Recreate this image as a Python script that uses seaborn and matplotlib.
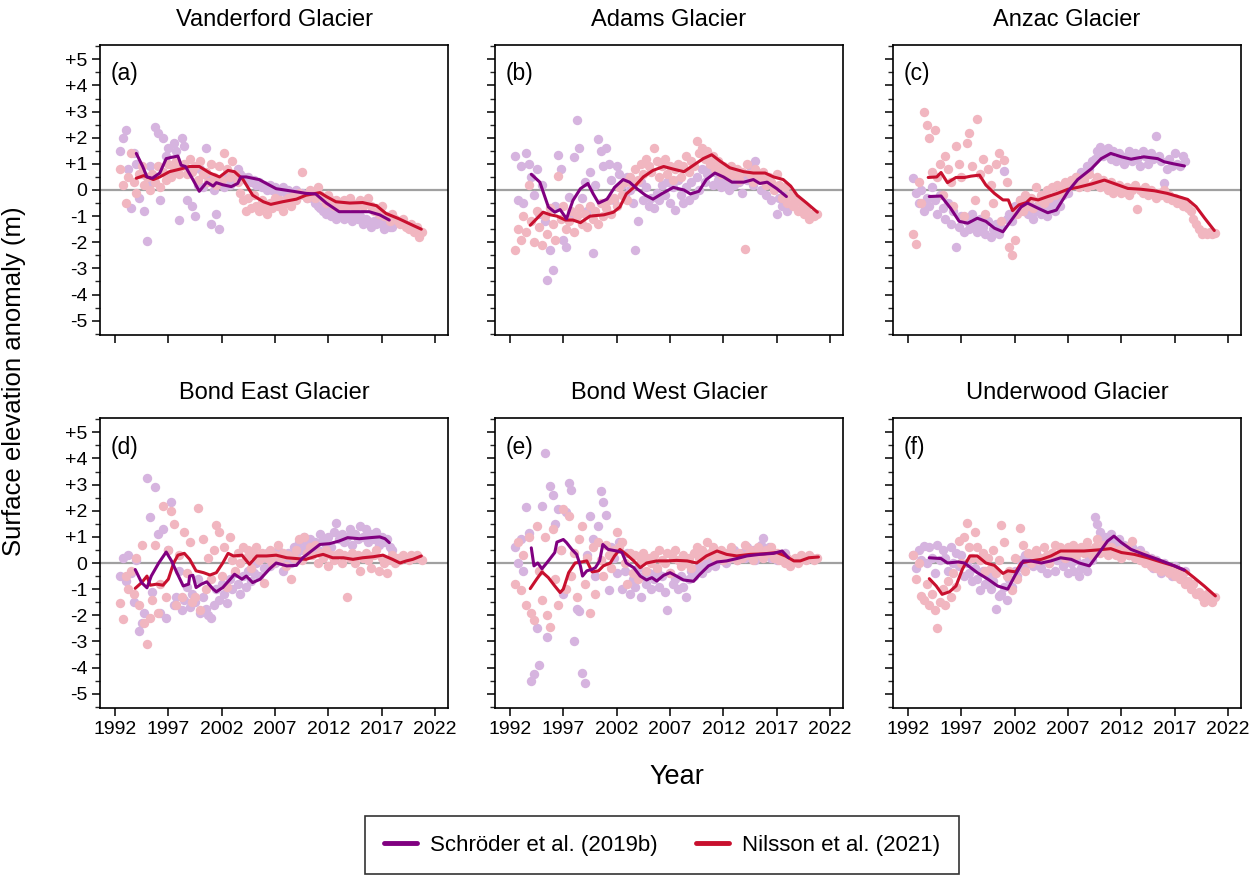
import numpy as np
import pandas as pd
import matplotlib
matplotlib.use("Agg")
import matplotlib.pyplot as plt
from matplotlib.lines import Line2D
from matplotlib.ticker import MultipleLocator
import seaborn as sns

# Surface elevation anomaly (m) for six glaciers.
# Point clouds are sampled every quarter year starting 1992.5.
PTS_START = 1992.5
PTS_STEP = 0.25

glaciers = ["Vanderford Glacier", "Adams Glacier", "Anzac Glacier",
            "Bond East Glacier", "Bond West Glacier", "Underwood Glacier"]
panel_tags = ["(a)", "(b)", "(c)", "(d)", "(e)", "(f)"]
series_names = ["Schröder et al. (2019b)", "Nilsson et al. (2021)"]

year_ticks = [1992, 1997, 2002, 2007, 2012, 2017, 2022]
anomaly_ticks = [5, 4, 3, 2, 1, 0, -1, -2, -3, -4, -5]
anomaly_labels = ["+5", "+4", "+3", "+2", "+1", "0", "-1", "-2", "-3", "-4", "-5"]

# ---------------- (a) Vanderford ----------------
vanderford_sch_pts = [
    1.5, 2.0, 2.3, 0.8, -0.7, 1.4, 1.0, -0.3, 0.6, -0.8, -1.95, 0.9,
    0.3, 2.4, 2.2, -0.4, 2.0, 1.3, 1.6, 0.6, 1.8, 1.5, -1.15, 2.0,
    1.7, -0.4, 0.8, -0.6, -1.0, 0.2, 0.8, 0.1, 1.6, 0.5, -1.3, 0.0,
    -0.9, -1.5, 0.4, 0.1, 0.5, 0.2, 0.3, 0.4, 0.8, 0.6, 0.5, 0.4,
    0.5, 0.3, 0.4, 0.2, 0.3, 0.1, 0.2, 0.0, 0.2, 0.0, 0.1, -0.1,
    0.0, 0.1, -0.1, 0.0, -0.2, -0.1, 0.0, -0.2, -0.1, -0.2, -0.3, -0.2,
    -0.3, -0.5, -0.6, -0.7, -0.8, -0.9, -0.8, -1.0, -0.9, -1.1, -1.0, -0.8,
    -1.1, -0.9, -1.0, -1.2, -0.9, -1.1, -1.0, -1.3, -1.1, -1.2, -1.4, -1.2,
    -1.3, -1.1, -1.3, -1.5, -1.2, -1.4, -1.4]
vanderford_nil_pts = [
    0.8, 0.2, -0.5, 0.5, 1.4, 0.3, -0.1, 0.6, 0.9, 0.2, 0.5, 0.0,
    0.6, 0.3, 0.9, 0.1, 0.7, 0.4, 1.0, 0.5, 0.8, 1.1, 0.6, 0.9,
    1.0, 0.6, 1.2, 0.7, 0.9, 0.4, 1.1, 0.6, 0.7, 0.3, 1.0, 0.5,
    0.2, 0.9, 0.4, 1.4, 0.8, 0.5, 1.1, 0.6, 0.3, -0.1, -0.4, -0.8,
    -0.3, -0.7, -0.2, -0.6, -0.8, -0.4, -0.6, -0.9, -0.5, -0.7, -0.3, -0.6,
    -0.4, -0.8, -0.5, -0.3, -0.6, -0.2, -0.4, -0.1, 0.7, -0.2, -0.3, 0.0,
    -0.1, -0.3, 0.1, -0.2, -0.3, -0.5, -0.2, -0.4, -0.6, -0.4, -0.5, -0.7,
    -0.4, -0.6, -0.3, -0.5, -0.7, -0.5, -0.4, -0.6, -0.5, -0.3, -0.6, -0.8,
    -0.7, -0.9, -0.6, -1.0, -1.0, -1.2, -0.9, -1.1, -1.2, -1.3, -1.1, -1.4,
    -1.5, -1.3, -1.6, -1.4, -1.8, -1.6]
vanderford_sch_line_x = [1994.0, 1994.6, 1995.0, 1995.5, 1996.2, 1996.8, 1997.3, 1997.9, 1998.2,
                         1998.6, 1999.3, 1999.9, 2000.6, 2001.2, 2001.5, 2002.1, 2002.9, 2003.5,
                         2003.8, 2004.3, 2005.5, 2007.1, 2008.7, 2009.9, 2010.8, 2011.8, 2013.0,
                         2014.0, 2015.8, 2016.8, 2017.7]
vanderford_sch_line_y = [1.4, 0.9, 0.5, 0.45, 0.65, 1.2, 1.25, 1.3, 0.95,
                         0.9, 0.4, -0.05, 0.3, 0.15, 0.28, 0.2, 0.13, 0.25,
                         0.5, 0.5, 0.4, 0.05, -0.05, -0.13, -0.15, -0.5, -0.83,
                         -0.83, -0.83, -0.95, -1.15]
vanderford_nil_line_x = [1994.0, 1994.7, 1995.6, 1996.2, 1997.1, 1998.1, 1999.0, 1999.9, 2000.9,
                         2001.8, 2002.6, 2003.2, 2004.0, 2004.9, 2005.9, 2006.6, 2007.7, 2009.0,
                         2009.9, 2011.2, 2011.8, 2012.7, 2014.0, 2015.2, 2016.5, 2017.4, 2018.6,
                         2019.9, 2020.7]
vanderford_nil_line_y = [0.45, 0.55, 0.4, 0.5, 0.7, 0.8, 0.9, 0.9, 0.65,
                         0.5, 0.75, 0.7, 0.4, -0.2, -0.45, -0.55, -0.45, -0.35,
                         -0.2, -0.1, -0.25, -0.45, -0.5, -0.48, -0.6, -0.9, -1.1,
                         -1.35, -1.5]

# ---------------- (b) Adams ----------------
adams_sch_pts = [
    1.3, -0.4, 0.9, -0.5, 1.4, 1.0, 0.5, -0.2, 0.8, -0.9, 0.2, -1.2,
    -3.45, -2.3, -3.05, -0.6, 1.35, 0.8, -1.9, -2.2, -0.25, -1.0, 1.27, 2.67,
    1.6, -0.3, 0.3, -0.8, 0.7, -2.4, 0.2, 1.95, 1.5, 0.9, 1.6, 1.0,
    0.4, -0.4, 0.9, 0.6, 0.2, -0.2, 0.5, 0.0, -0.5, -2.3, -1.2, 0.3,
    -0.4, 0.1, -0.6, -0.3, -0.7, -0.1, -0.4, 0.2, -0.2, 0.3, -0.5, 0.1,
    -0.75, 0.4, -0.2, -0.5, 0.1, -0.4, 0.3, -0.2, 0.5, 0.0, 0.8, 0.3,
    0.6, 0.9, 0.2, 0.7, 0.4, 0.1, 0.6, 0.3, 0.0, 0.5, 0.2, 0.7,
    0.3, -0.1, 0.6, 0.4, 0.9, 0.2, 1.1, 0.5, 0.0, 0.6, -0.2, 0.3,
    -0.4, 0.1, -0.9, -0.3, -0.6, -0.2, -0.8]
adams_nil_pts = [
    -2.3, -1.5, -1.9, -1.0, -1.6, 0.2, -1.2, -2.0, -0.8, -1.4, -2.1, -1.0,
    -1.7, -0.7, -1.3, -1.9, 0.55, -1.1, -0.6, -1.5, -1.2, -0.8, -1.6, -1.0,
    -0.7, -1.3, -0.9, -1.4, -0.6, -1.1, -0.8, -1.3, -0.5, -1.0, -0.7, -0.4,
    -0.9, -0.3, -0.6, 0.1, -0.2, 0.3, -0.4, 0.5, 0.2, 0.8, 0.4, 1.0,
    0.6, 1.2, 0.9, 0.7, 1.6, 1.1, 0.5, 0.9, 1.2, 0.6, 0.9, 0.4,
    0.8, 1.0, 0.5, 0.9, 1.3, 0.7, 1.1, 0.9, 1.88, 1.4, 1.6, 1.2,
    1.5, 1.0, 1.3, 0.8, 1.1, 0.6, 0.9, 0.7, 0.5, 0.9, 0.6, 0.8,
    0.4, 0.7, -2.25, 1.0, 0.6, 0.3, 0.8, 0.5, 0.4, 0.7, 0.2, 0.5,
    0.3, 0.0, 0.6, 0.2, -0.3, 0.1, -0.5, -0.2, -0.6, -0.4, -0.8, -0.5,
    -0.9, -0.7, -1.1, -0.9, -1.0, -0.9]
adams_sch_line_x = [1994.0, 1994.8, 1995.6, 1996.2, 1996.7, 1997.3, 1997.9, 1998.6, 1999.3,
                    1999.8, 2000.3, 2001.1, 2001.8, 2002.6, 2003.2, 2003.9, 2004.7, 2005.4,
                    2006.2, 2007.3, 2008.3, 2008.9, 2009.7, 2010.4, 2011.2, 2012.0, 2012.8,
                    2013.9, 2014.8, 2015.4, 2016.1, 2017.0, 2017.9]
adams_sch_line_y = [0.6, 0.3, -0.65, -0.85, -0.75, -1.1, -0.4, 0.05, 0.25,
                    -0.15, -0.5, -0.35, 0.1, 0.4, 0.3, 0.05, -0.2, -0.35,
                    -0.15, 0.1, 0.0, -0.15, -0.05, 0.4, 0.65, 0.5, 0.3,
                    0.3, 0.4, 0.25, 0.3, 0.05, -0.25]
adams_nil_line_x = [1993.9, 1995.1, 1995.8, 1996.4, 1997.2, 1997.9, 1998.6, 1999.5, 2000.8,
                    2001.7, 2002.3, 2002.9, 2003.6, 2004.5, 2005.4, 2006.4, 2007.3, 2008.3,
                    2009.2, 2010.1, 2010.9, 2011.7, 2012.6, 2013.9, 2014.8, 2015.9, 2016.7,
                    2017.6, 2018.3, 2018.9, 2019.8, 2020.8]
adams_nil_line_y = [-1.35, -0.85, -0.95, -1.0, -1.15, -1.15, -1.25, -1.0, -0.95,
                    -0.85, -0.65, -0.15, 0.1, 0.5, 0.75, 0.9, 0.8, 0.7,
                    0.95, 1.2, 1.35, 1.1, 0.85, 0.7, 0.65, 0.65, 0.5,
                    0.4, 0.15, -0.2, -0.5, -0.85]

# ---------------- (c) Anzac ----------------
anzac_sch_pts = [
    0.45, -0.1, -0.5, 0.0, -0.8, -0.3, -0.6, 0.1, -0.4, -0.9, -0.2, -0.7,
    -1.1, -0.5, -1.3, -0.8, -2.2, -1.4, -1.0, -1.6, -1.2, -1.5, -0.9, -1.3,
    -1.6, -1.1, -1.4, -1.7, -1.2, -1.8, -1.5, -1.3, -1.7, -1.4, 0.72, -1.1,
    -0.9, -1.2, -0.6, -0.8, -0.4, -0.7, -0.5, -0.9, -0.6, -1.1, -0.8, -0.5,
    -0.9, -0.6, -1.0, -0.7, -0.5, -0.8, -0.3, -0.6, -0.2, 0.1, -0.1, 0.3,
    0.2, 0.5, 0.4, 0.7, 0.6, 0.9, 0.8, 1.1, 1.2, 1.5, 1.65, 1.3,
    1.4, 1.6, 1.2, 1.5, 1.1, 1.4, 1.3, 1.0, 1.3, 1.5, 1.1, 1.4,
    1.2, 0.9, 1.5, 1.3, 1.0, 1.4, 1.2, 2.05, 1.3, 1.1, 0.25, 0.8,
    1.2, 0.9, 1.4, 1.0, 0.9, 1.3, 1.1]
anzac_nil_pts = [
    -1.7, -2.05, 0.3, -0.5, 3.0, 2.5, 2.0, 0.7, 2.3, 0.5, 1.0, -0.2,
    1.3, 0.8, 0.3, -0.6, 1.7, 1.0, 0.5, -1.0, 1.8, 2.2, 0.9, -0.4,
    2.7, 0.6, 1.2, -0.9, 0.8, 0.2, -0.5, 1.0, 1.4, -1.2, 1.15, 0.3,
    -2.2, -2.5, -1.9, -0.9, -0.4, -0.8, -0.2, -0.6, -0.3, -0.7, 0.1, -0.4,
    -0.2, -0.5, 0.0, -0.3, 0.1, -0.2, 0.2, -0.1, 0.0, 0.3, 0.1, 0.4,
    0.2, 0.5, 0.1, 0.3, 0.4, 0.1, 0.6, 0.2, 0.3, 0.5, 0.1, 0.4,
    0.2, 0.0, 0.3, -0.1, 0.1, 0.2, -0.1, 0.0, 0.1, -0.2, 0.0, 0.2,
    -0.72, 0.0, -0.1, 0.1, -0.2, 0.0, -0.1, -0.3, -0.1, -0.2, 0.0, -0.3,
    -0.2, -0.4, -0.3, -0.5, -0.4, -0.6, -0.5, -0.7, -0.8, -1.1, -1.3, -1.5,
    -1.7, -1.6, -1.7, -1.6, -1.7, -1.65]
anzac_sch_line_x = [1994.0, 1995.1, 1996.0, 1996.8, 1997.6, 1998.5, 1999.3, 2000.1, 2000.9,
                    2001.7, 2002.6, 2003.2, 2004.2, 2005.1, 2005.9, 2007.0, 2007.9, 2009.2,
                    2010.1, 2011.0, 2012.0, 2012.9, 2014.1, 2015.4, 2016.0, 2016.9, 2017.9]
anzac_sch_line_y = [-0.25, -0.23, -0.7, -1.2, -1.27, -1.08, -1.2, -1.46, -1.6,
                    -1.15, -0.65, -0.5, -0.7, -0.87, -0.77, -0.05, 0.4, 0.82,
                    1.2, 1.4, 1.27, 1.18, 1.27, 1.2, 1.08, 1.0, 0.92]
anzac_nil_line_x = [1993.9, 1994.7, 1995.1, 1995.7, 1996.5, 1997.3, 1997.9, 1998.7, 1999.3,
                    2000.1, 2000.9, 2001.4, 2001.8, 2002.4, 2003.1, 2003.5, 2004.2, 2005.1,
                    2006.0, 2007.0, 2007.9, 2009.2, 2010.4, 2011.3, 2012.6, 2013.8, 2015.1,
                    2016.3, 2017.3, 2018.2, 2019.0, 2019.8, 2020.7]
anzac_nil_line_y = [0.48, 0.5, 0.67, 0.28, 0.48, 0.48, 0.53, 0.57, 0.19,
                    -0.13, -0.38, -0.38, -0.79, -0.57, -0.48, -0.32, -0.38, -0.25,
                    -0.13, 0.03, 0.1, 0.23, 0.38, 0.25, 0.06, 0.03, -0.03,
                    -0.13, -0.25, -0.36, -0.64, -1.08, -1.55]

# ---------------- (d) Bond East ----------------
bond_east_sch_pts = [
    -0.5, 0.2, -0.7, 0.3, -0.4, -1.5, 0.1, -2.6, -2.3, -1.9, 3.25, 1.75,
    -1.1, 2.9, 1.1, -1.9, 1.3, -2.1, 0.5, 2.35, -1.6, -1.3, -0.3, -1.8,
    -1.4, -0.9, -1.7, -1.2, -1.5, -0.6, -1.9, -1.3, -1.75, -2.0, -2.1, -1.6,
    -1.0, -1.4, -0.8, -1.2, -1.55, -0.6, -1.0, -0.4, -0.8, -1.2, -0.5, -0.9,
    -0.3, -0.7, -0.4, 0.0, -0.5, 0.2, -0.2, 0.4, -0.1, 0.3, 0.0, 0.5,
    0.1, -0.3, 0.2, 0.4, 0.0, 0.6, 0.3, 0.8, 0.5, 1.0, 0.7, 0.9,
    0.6, 0.8, 0.5, 1.1, 0.9, 0.7, 1.0, 0.6, 1.2, 1.55, 0.9, 1.1,
    0.8, 1.0, 1.3, 0.7, 1.1, 0.9, 1.4, 1.0, 1.3, 0.8, 1.1, 0.9,
    1.2, 0.7, 1.0, 0.8, 0.9, 0.6, 0.5]
bond_east_nil_pts = [
    -1.55, -2.15, -0.5, -1.0, -0.3, -1.2, 0.2, -1.6, 0.7, -2.3, -3.1, -2.1,
    -1.4, 0.7, -1.9, -0.8, 2.2, -1.3, 0.5, 2.0, 1.5, -1.6, 0.3, -1.3,
    1.2, -0.4, 0.8, -1.5, -1.3, 2.1, -1.8, 0.9, -1.0, 0.2, -0.6, 0.5,
    1.45, 1.2, -0.5, 0.6, -0.9, 1.0, 0.1, -0.3, 0.4, 0.0, 0.6, 0.2,
    0.5, -0.2, 0.3, 0.6, 0.1, 0.4, -0.75, 0.2, 0.5, 0.0, 0.3, 0.7,
    0.2, 0.4, -0.1, 0.3, -0.6, 0.2, 0.5, 0.9, 0.1, 1.0, 0.4, 0.6,
    0.3, 0.7, 0.0, 0.4, 0.2, 0.5, -0.1, 0.3, 0.1, 0.3, 0.4, 0.0,
    0.3, -1.3, 0.2, 0.4, 0.0, 0.3, -0.3, 0.2, 0.4, 0.1, -0.2, 0.3,
    0.5, -0.3, 0.2, 0.0, -0.4, 0.1, 0.3, 0.0, 0.2, 0.1, 0.3, 0.2,
    0.1, 0.3, 0.2, 0.3, 0.2, 0.1]
bond_east_sch_line_x = [1993.9, 1994.5, 1995.0, 1995.4, 1996.1, 1996.8, 1997.3, 1997.8, 1998.4,
                        1998.9, 1999.0, 1999.3, 1999.6, 2000.1, 2000.6, 2001.2, 2001.5, 2002.1,
                        2002.8, 2003.2, 2003.9, 2004.3, 2004.9, 2005.6, 2006.5, 2007.1, 2008.1,
                        2009.0, 2009.6, 2010.6, 2011.2, 2012.1, 2013.0, 2013.8, 2014.9, 2015.9,
                        2016.8, 2017.3, 2017.7]
bond_east_sch_line_y = [-0.25, -0.75, -0.95, -0.5, 0.0, 0.42, 0.08, -0.37, -0.88,
                        -0.81, -0.5, -0.47, -0.94, -0.81, -0.72, -1.0, -1.1, -0.94,
                        -0.62, -0.43, -0.62, -0.5, -0.75, -0.62, -0.22, 0.0, -0.11,
                        -0.09, 0.2, 0.52, 0.71, 0.74, 0.84, 0.97, 0.93, 0.97,
                        1.0, 0.93, 0.78]
bond_east_nil_line_x = [1993.9, 1994.5, 1995.0, 1995.3, 1995.9, 1996.5, 1997.0, 1997.5, 1997.9,
                        1998.5, 1999.0, 1999.6, 2000.3, 2000.9, 2001.5, 2002.1, 2002.6, 2003.1,
                        2003.9, 2004.6, 2005.3, 2006.2, 2007.1, 2008.1, 2009.0, 2009.9, 2010.9,
                        2011.5, 2012.4, 2013.4, 2014.3, 2015.2, 2016.2, 2017.1, 2018.0, 2018.7,
                        2019.3, 2019.9, 2020.7]
bond_east_nil_line_y = [-0.97, -0.75, -0.5, -0.85, -0.81, -0.85, -0.62, 0.0, 0.3,
                        0.37, 0.14, -0.3, -0.37, -0.46, -0.37, 0.0, 0.37, 0.27,
                        0.3, -0.05, 0.27, 0.27, 0.3, 0.2, 0.17, 0.14, 0.27,
                        0.33, 0.2, 0.2, 0.14, 0.2, 0.24, 0.3, 0.14, 0.0,
                        0.08, 0.14, 0.27]

# ---------------- (e) Bond West ----------------
bond_west_sch_pts = [
    0.6, 0.0, 0.9, -0.3, 2.15, 1.15, -4.5, -4.25, -2.5, -3.9, 2.2, 4.2,
    -2.85, 2.95, 2.6, 1.5, 2.05, 0.5, -1.2, 1.95, 3.05, 2.8, -3.0, -1.75,
    -1.85, -4.2, -4.6, 0.3, 1.8, 0.9, -0.5, 1.4, 2.75, 2.35, 1.85, -1.05,
    0.6, 0.2, -0.4, 0.8, -1.0, -0.3, 0.4, -1.2, -0.6, -0.9, -0.2, -1.3,
    -0.5, -0.8, -0.4, -1.0, -0.6, -0.3, -0.9, -0.5, -1.1, -1.8, -0.4, -0.8,
    -0.6, -1.0, -0.5, -0.9, -1.3, -0.6, -0.3, -0.5, -0.2, -0.1, -0.4, 0.1,
    -0.2, 0.0, 0.2, -0.1, 0.3, 0.1, 0.3, 0.0, 0.4, 0.2, 0.5, 0.1,
    0.3, 0.4, 0.2, 0.6, 0.3, 0.5, 0.1, 0.4, 0.7, 0.95, 0.3, 0.6,
    0.2, 0.4, 0.1, 0.3, 0.2, 0.4, 0.1]
bond_west_nil_pts = [
    -0.8, 0.8, -1.05, 0.3, -1.6, 1.0, -1.9, -2.2, 1.4, -0.3, -1.4, 1.0,
    -2.0, -2.45, 1.3, -0.6, -1.6, 0.5, 2.05, -1.0, 1.8, -0.5, 0.4, -1.3,
    0.9, 1.4, -0.8, 0.2, -1.9, 0.6, -1.2, 0.8, 0.1, -0.5, 0.7, 0.3,
    -0.2, 0.5, 1.2, 0.6, 0.8, 0.0, -0.8, 0.4, -0.4, 0.3, -0.6, 0.1,
    0.4, -0.3, 0.2, 0.0, 0.3, -0.2, 0.5, 0.1, 0.0, 0.4, -0.4, 0.2,
    0.5, 0.1, -0.1, 0.3, 0.0, 0.2, -0.2, 0.4, 0.6, 0.2, 0.5, 0.3,
    0.8, 0.4, 0.6, 0.2, 0.3, 0.5, 0.1, 0.4, 0.2, 0.6, 0.3, 0.1,
    0.4, 0.2, 0.7, 0.3, 0.5, 0.1, 0.4, 0.6, 0.3, 0.2, 0.5, 0.4,
    0.6, 0.2, 0.4, 0.1, 0.3, 0.0, 0.2, -0.1, 0.1, 0.2, 0.0, 0.3,
    0.2, 0.1, 0.3, 0.2, 0.1, 0.2]
bond_west_sch_line_x = [1994.0, 1994.25, 1994.6, 1995.0, 1995.6, 1996.2, 1996.4, 1997.0, 1997.3,
                        1997.8, 1998.25, 1998.6, 1998.8, 1999.2, 1999.7, 2000.0, 2000.4, 2000.7,
                        2001.2, 2002.0, 2002.5, 2002.9, 2003.6, 2004.2, 2004.8, 2005.3, 2005.75,
                        2006.4, 2007.0, 2007.6, 2008.25, 2009.2, 2009.8, 2010.6, 2011.4, 2012.3,
                        2013.25, 2014.2, 2015.4, 2016.7, 2017.5, 2018.1]
bond_west_sch_line_y = [0.58, -0.11, 0.0, -0.22, 0.08, 0.4, 0.8, 0.9, 0.78,
                        0.52, 0.33, -0.11, -0.5, -0.3, -0.24, -0.18, 0.08, 0.71,
                        0.52, 0.46, 0.4, 0.0, -0.18, -0.5, -0.65, -0.56, -0.69,
                        -0.47, -0.37, -0.5, -0.65, -0.7, -0.43, -0.11, 0.04, 0.08,
                        0.17, 0.27, 0.33, 0.37, 0.46, 0.2]
bond_west_nil_line_x = [1993.9, 1994.5, 1995.0, 1995.6, 1996.2, 1996.7, 1997.0, 1997.5, 1998.1,
                        1998.7, 1999.2, 1999.7, 2000.3, 2000.75, 2001.4, 2001.8, 2002.3, 2002.9,
                        2003.6, 2004.2, 2004.8, 2005.75, 2006.7, 2007.6, 2008.6, 2009.5, 2010.4,
                        2011.4, 2012.3, 2013.25, 2014.5, 2015.75, 2017.0, 2017.8, 2018.6, 2019.2,
                        2020.0, 2020.9]
bond_west_nil_line_y = [-0.98, -0.62, -0.34, -0.56, -0.88, -1.13, -1.0, -0.37, 0.0,
                        0.04, 0.08, -0.34, -0.3, -0.11, 0.0, 0.27, 0.52, 0.33,
                        0.08, -0.18, 0.0, 0.08, 0.08, 0.1, 0.08, 0.0, 0.27,
                        0.46, 0.33, 0.27, 0.33, 0.35, 0.4, 0.27, 0.08, 0.08,
                        0.2, 0.23]

# ---------------- (f) Underwood ----------------
underwood_sch_pts = [
    0.3, -0.2, 0.5, 0.1, 0.65, 0.0, 0.6, 0.2, -0.4, 0.7, 0.1, 0.5,
    0.2, -0.3, 0.6, 0.0, 0.4, -0.1, 0.3, -0.5, 0.0, -0.4, -0.7, -0.2,
    -0.6, -1.05, -0.3, -0.8, -0.5, -1.0, -0.7, -1.75, -1.25, -1.2, -0.9, -1.4,
    -0.6, -0.9, -0.3, -0.5, 0.1, -0.2, 0.3, 0.0, 0.2, -0.1, 0.4, 0.1,
    -0.2, 0.1, -0.4, 0.0, 0.2, -0.3, 0.1, 0.3, -0.1, 0.2, -0.4, 0.0,
    -0.3, 0.1, -0.5, -0.2, 0.0, -0.3, 0.2, 0.1, 1.75, 1.5, 1.2, 0.9,
    1.0, 0.7, 1.1, 0.8, 0.6, 0.9, 0.4, 0.7, 0.5, 0.3, 0.6, 0.4,
    0.2, 0.5, 0.1, 0.3, 0.0, 0.2, -0.2, 0.1, -0.1, -0.4, 0.0, -0.3,
    -0.2, -0.5, -0.1, -0.4, -0.3, -0.6, -0.3]
underwood_nil_pts = [
    0.3, -0.6, 0.0, -1.25, -1.4, -0.8, -1.6, -1.2, -1.8, -2.5, -1.5, -1.0,
    -1.6, -0.7, -1.3, -0.4, -0.9, 0.85, 0.0, 1.0, 1.55, 0.6, 0.2, 1.2,
    0.6, 0.1, 0.4, -0.3, 0.2, -0.2, 0.5, -0.4, 0.1, 1.45, 0.8, -0.5,
    -0.3, -1.05, 0.2, -0.6, 1.35, 0.7, -0.3, 0.4, 0.0, 0.3, 0.5, 0.1,
    0.2, 0.6, 0.3, 0.0, 0.4, 0.7, 0.3, 0.6, 0.5, 0.2, 0.6, 0.4,
    0.7, 0.3, 0.5, 0.6, 0.4, 0.8, 0.5, 0.3, 0.6, 0.9, 0.4, 0.7,
    0.5, 0.3, 0.6, 0.4, 0.3, 0.5, 0.2, 0.4, 0.6, 0.3, 0.85, 0.2,
    0.4, 0.1, 0.3, 0.0, 0.2, -0.1, 0.1, -0.2, 0.0, -0.3, -0.1, -0.2,
    -0.4, -0.2, -0.5, -0.3, -0.6, -0.4, -0.8, -0.7, -1.0, -0.8, -1.2, -1.1,
    -1.3, -1.5, -1.2, -1.4, -1.5, -1.3]
underwood_sch_line_x = [1994.0, 1995.1, 1995.7, 1996.7, 1997.3, 1998.5, 1999.5, 2000.4, 2001.35,
                        2002.0, 2002.8, 2003.5, 2004.5, 2005.4, 2006.3, 2007.3, 2008.05, 2009.0,
                        2009.8, 2010.7, 2011.3, 2012.0, 2012.9, 2014.1, 2015.4, 2016.6, 2017.9]
underwood_sch_line_y = [0.2, 0.17, 0.0, 0.04, 0.0, -0.37, -0.62, -0.88, -1.0,
                        -0.5, 0.08, 0.08, 0.0, 0.08, 0.2, 0.14, 0.0, -0.11,
                        0.33, 0.84, 1.03, 0.78, 0.52, 0.33, 0.14, -0.05, -0.27]
underwood_nil_line_x = [1994.0, 1994.65, 1995.2, 1995.9, 1996.5, 1997.1, 1997.8, 1998.5, 1999.3,
                        2000.1, 2000.9, 2001.35, 2002.1, 2002.6, 2003.5, 2004.5, 2005.4, 2006.3,
                        2007.3, 2008.5, 2009.8, 2011.0, 2012.0, 2013.2, 2014.45, 2015.7, 2016.95,
                        2018.0, 2018.8, 2019.75, 2020.8]
underwood_nil_line_y = [-0.6, -0.88, -1.2, -1.1, -0.88, -0.24, 0.27, 0.27, 0.0,
                        -0.09, -0.4, -0.3, -0.34, 0.0, 0.08, 0.14, 0.27, 0.46,
                        0.46, 0.46, 0.5, 0.55, 0.4, 0.33, 0.2, 0.04, -0.11,
                        -0.3, -0.56, -0.88, -1.26]

panels = [
    (vanderford_sch_pts, vanderford_nil_pts, vanderford_sch_line_x, vanderford_sch_line_y,
     vanderford_nil_line_x, vanderford_nil_line_y),
    (adams_sch_pts, adams_nil_pts, adams_sch_line_x, adams_sch_line_y,
     adams_nil_line_x, adams_nil_line_y),
    (anzac_sch_pts, anzac_nil_pts, anzac_sch_line_x, anzac_sch_line_y,
     anzac_nil_line_x, anzac_nil_line_y),
    (bond_east_sch_pts, bond_east_nil_pts, bond_east_sch_line_x, bond_east_sch_line_y,
     bond_east_nil_line_x, bond_east_nil_line_y),
    (bond_west_sch_pts, bond_west_nil_pts, bond_west_sch_line_x, bond_west_sch_line_y,
     bond_west_nil_line_x, bond_west_nil_line_y),
    (underwood_sch_pts, underwood_nil_pts, underwood_sch_line_x, underwood_sch_line_y,
     underwood_nil_line_x, underwood_nil_line_y),
]

# colours
sch_line_col = "#800080"
nil_line_col = "#c8102e"
sch_pt_col = "#d6b4df"
nil_pt_col = "#f1b6c0"

sns.set_style("ticks")
plt.rcParams["font.family"] = ["Liberation Sans", "DejaVu Sans"]
plt.rcParams["text.color"] = "black"
plt.rcParams["axes.titlecolor"] = "black"

fig = plt.figure(figsize=(12.52, 8.8), dpi=100)
W, H = 1252, 880
col_left = [100, 495, 893]
row_top = [45, 418]
ax_w, ax_h = 348, 290

for i, (sch_pts, nil_pts, sx, sy, nx, ny) in enumerate(panels):
    r, c = divmod(i, 3)
    ax = fig.add_axes([col_left[c] / W, 1 - (row_top[r] + ax_h) / H, ax_w / W, ax_h / H])

    sch_df = pd.DataFrame({"year": PTS_START + PTS_STEP * np.arange(len(sch_pts)), "anom": sch_pts})
    nil_df = pd.DataFrame({"year": PTS_START + PTS_STEP * np.arange(len(nil_pts)), "anom": nil_pts})

    ax.axhline(0, color="#a0a0a0", lw=1.6, zorder=1)
    sns.scatterplot(data=sch_df, x="year", y="anom", ax=ax, color=sch_pt_col,
                    s=46, linewidth=0, zorder=2)
    sns.scatterplot(data=nil_df, x="year", y="anom", ax=ax, color=nil_pt_col,
                    s=46, linewidth=0, zorder=2)
    sns.lineplot(x=sx, y=sy, ax=ax, color=sch_line_col, lw=2.2, zorder=4)
    sns.lineplot(x=nx, y=ny, ax=ax, color=nil_line_col, lw=2.2, zorder=3)

    ax.set_xlim(1990.6, 2023.2)
    ax.set_ylim(-5.55, 5.55)
    ax.set_xticks(year_ticks)
    ax.set_yticks(anomaly_ticks)
    ax.yaxis.set_minor_locator(MultipleLocator(0.5))
    if c == 0:
        ax.set_yticklabels(anomaly_labels)
    else:
        ax.set_yticklabels([])
    if r == 1:
        ax.set_xticklabels([str(y) for y in year_ticks])
    else:
        ax.set_xticklabels([])
    ax.tick_params(which="major", direction="out", length=6, width=1.1,
                   labelsize=14, colors="black", pad=3)
    ax.tick_params(which="minor", axis="y", direction="out", length=3.5, width=1.0)
    ax.set_xlabel("")
    ax.set_ylabel("")
    for sp in ax.spines.values():
        sp.set_visible(True)
        sp.set_color("black")
        sp.set_linewidth(1.2)

    ax.set_title(glaciers[i], fontsize=17, pad=14, color="black")
    ax.text(0.03, 0.9, panel_tags[i], transform=ax.transAxes, fontsize=16.5,
            ha="left", va="center", color="black")

fig.text(14 / W, 1 - 381 / H, "Surface elevation anomaly (m)", rotation=90,
         ha="center", va="center", fontsize=18.5, color="black")
fig.text(677 / W, 1 - 777 / H, "Year", ha="center", va="center", fontsize=19.5, color="black")

handles = [Line2D([0], [0], color=sch_line_col, lw=3.5),
           Line2D([0], [0], color=nil_line_col, lw=3.5)]
leg = fig.legend(handles, series_names, loc="center", bbox_to_anchor=(662 / W, 1 - 845 / H),
                 ncol=2, fontsize=16, frameon=True, fancybox=False, handlelength=1.5,
                 handletextpad=0.6, columnspacing=1.7, borderpad=0.85)
leg.get_frame().set_edgecolor("black")
leg.get_frame().set_linewidth(1.2)

fig.savefig("out.png", dpi=100)
